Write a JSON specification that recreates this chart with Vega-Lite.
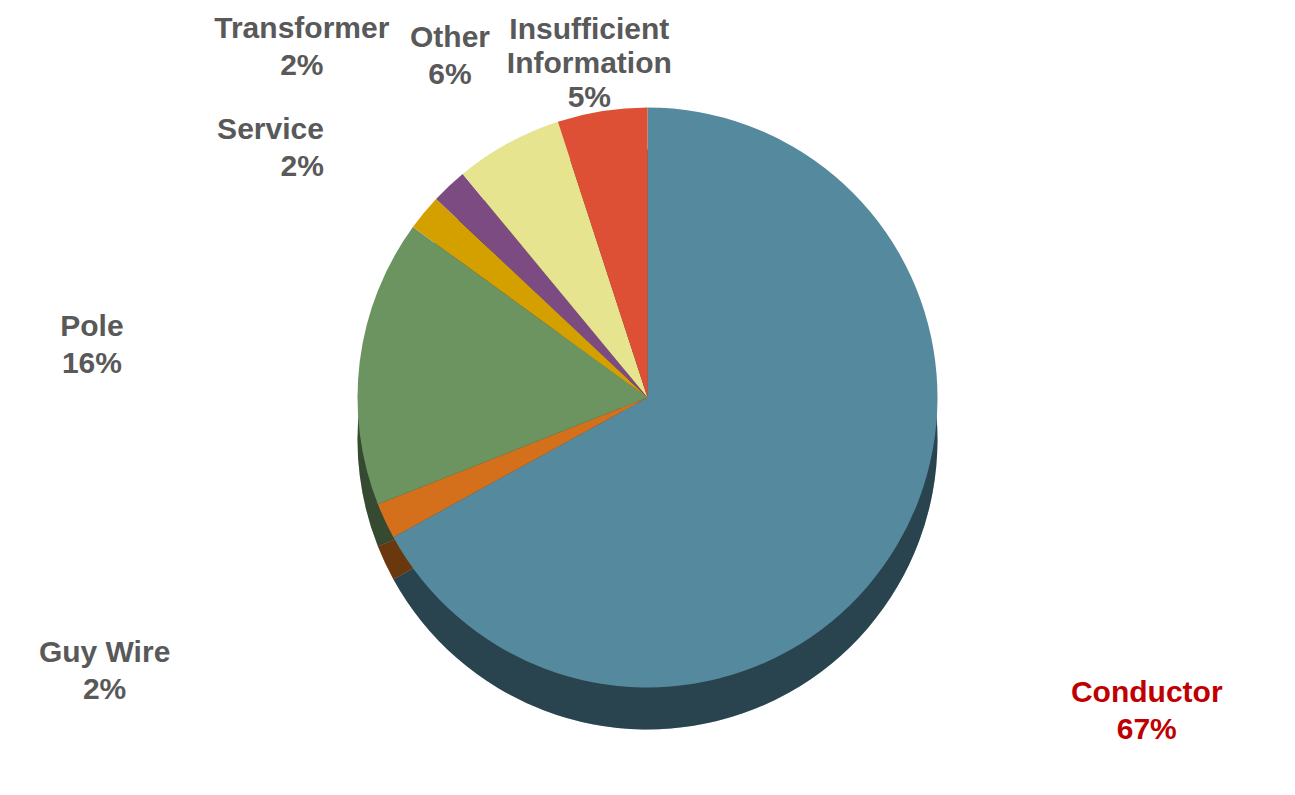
{
  "$schema": "https://vega.github.io/schema/vega-lite/v6.json",
  "width": 1295,
  "height": 795,
  "autosize": {"type": "none"},
  "padding": 0,
  "background": "white",
  "view": {"stroke": null},
  "data": {
    "values": [
      {"name": "Conductor", "value": 67, "order": 1, "label": "Conductor\n67%"},
      {"name": "Guy Wire", "value": 2, "order": 2, "label": "Guy Wire\n2%"},
      {"name": "Pole", "value": 16, "order": 3, "label": "Pole\n16%"},
      {"name": "Service", "value": 2, "order": 4, "label": "Service\n2%"},
      {"name": "Transformer", "value": 2, "order": 5, "label": "Transformer\n2%"},
      {"name": "Other", "value": 6, "order": 6, "label": "Other\n6%"},
      {"name": "Insufficient Information", "value": 5, "order": 7, "label": "Insufficient\nInformation\n5%"}
    ]
  },
  "encoding": {
    "theta": {"field": "value", "type": "quantitative", "stack": true},
    "order": {"field": "order", "type": "quantitative"}
  },
  "layer": [
    {
      "mark": {"type": "arc", "radius": 290, "yOffset": 42},
      "encoding": {
        "color": {
          "field": "name", "type": "nominal", "legend": null,
          "scale": {
            "domain": ["Conductor", "Guy Wire", "Pole", "Service", "Transformer", "Other", "Insufficient Information"],
            "range": ["#55899E", "#D4701C", "#6B9460", "#D4A000", "#7B4B82", "#E6E48E", "#DD5036"]
          }
        }
      }
    },
    {
      "mark": {"type": "arc", "radius": 290, "yOffset": 42, "color": "#000000", "opacity": 0.5},
      "encoding": {}
    },
    {
      "mark": {"type": "arc", "radius": 290},
      "encoding": {
        "color": {"field": "name", "type": "nominal", "legend": null}
      }
    },
    {
      "mark": {"type": "text", "radius": 580, "align": "center", "baseline": "middle", "fontSize": 30, "fontWeight": "bold", "font": "Liberation Sans", "lineBreak": "\n", "lineHeight": 37},
      "encoding": {
        "text": {"condition": {"test": "datum.name === 'Conductor'", "field": "label", "type": "nominal"}, "value": ""},
        "color": {"value": "#C00000"}
      }
    },
    {
      "mark": {"type": "text", "radius": 600, "align": "center", "baseline": "middle", "fontSize": 30, "fontWeight": "bold", "font": "Liberation Sans", "lineBreak": "\n", "lineHeight": 37},
      "encoding": {
        "text": {"condition": {"test": "datum.name === 'Guy Wire'", "field": "label", "type": "nominal"}, "value": ""},
        "color": {"value": "#595959"}
      }
    },
    {
      "mark": {"type": "text", "radius": 560, "align": "center", "baseline": "middle", "fontSize": 30, "fontWeight": "bold", "font": "Liberation Sans", "lineBreak": "\n", "lineHeight": 37},
      "encoding": {
        "text": {"condition": {"test": "datum.name === 'Pole'", "field": "label", "type": "nominal"}, "value": ""},
        "color": {"value": "#595959"}
      }
    },
    {
      "mark": {"type": "text", "radius": 420, "align": "right", "baseline": "middle", "fontSize": 30, "fontWeight": "bold", "font": "Liberation Sans", "lineBreak": "\n", "lineHeight": 37},
      "encoding": {
        "text": {"condition": {"test": "datum.name === 'Service'", "field": "label", "type": "nominal"}, "value": ""},
        "color": {"value": "#595959"}
      }
    },
    {
      "mark": {"type": "text", "radius": 505, "align": "center", "baseline": "middle", "fontSize": 30, "fontWeight": "bold", "font": "Liberation Sans", "lineBreak": "\n", "lineHeight": 37},
      "encoding": {
        "text": {"condition": {"test": "datum.name === 'Transformer'", "field": "label", "type": "nominal"}, "value": ""},
        "color": {"value": "#595959"}
      }
    },
    {
      "mark": {"type": "text", "radius": 410, "align": "center", "baseline": "middle", "fontSize": 30, "fontWeight": "bold", "font": "Liberation Sans", "lineBreak": "\n", "lineHeight": 37},
      "encoding": {
        "text": {"condition": {"test": "datum.name === 'Other'", "field": "label", "type": "nominal"}, "value": ""},
        "color": {"value": "#595959"}
      }
    },
    {
      "mark": {"type": "text", "radius": 372, "align": "center", "baseline": "middle", "fontSize": 30, "fontWeight": "bold", "font": "Liberation Sans", "lineBreak": "\n", "lineHeight": 34},
      "encoding": {
        "text": {"condition": {"test": "datum.name === 'Insufficient Information'", "field": "label", "type": "nominal"}, "value": ""},
        "color": {"value": "#595959"}
      }
    }
  ]
}
